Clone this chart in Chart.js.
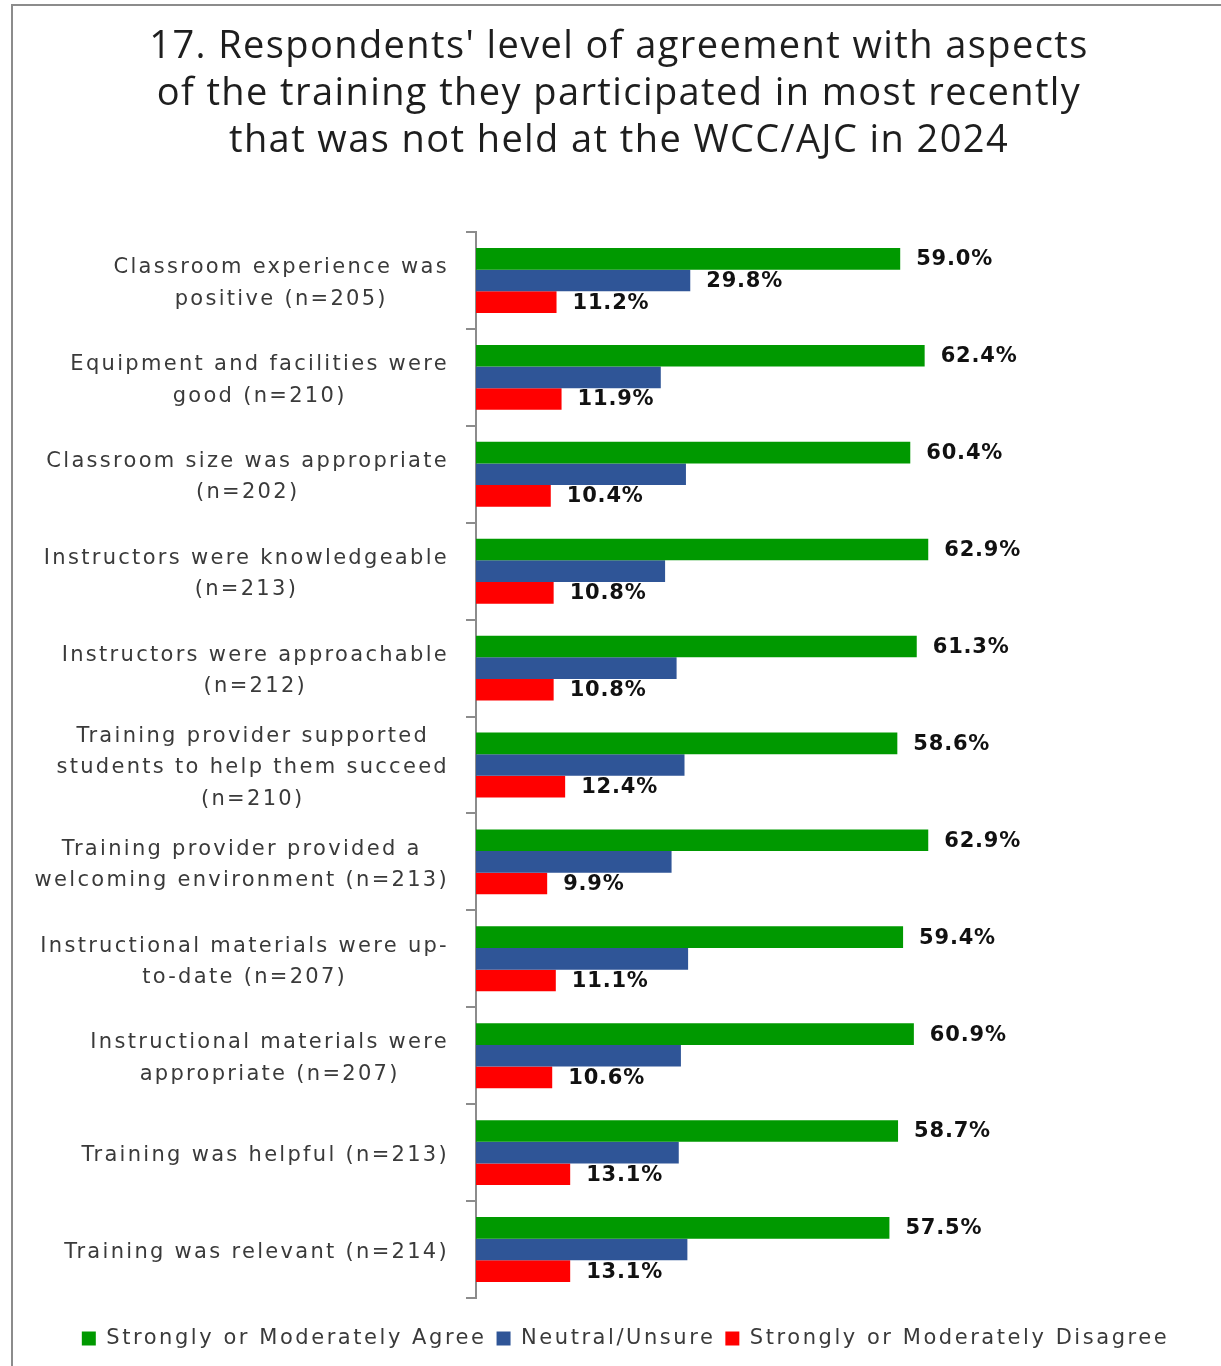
<!DOCTYPE html>
<html>
<head>
<meta charset="utf-8">
<title>Training agreement 2024</title>
<script src="https://cdn.jsdelivr.net/npm/chart.js@4.4.1/dist/chart.umd.min.js"></script>
<style>
  html, body { margin: 0; padding: 0; background: #fff; }
  #wrap { position: relative; width: 1221px; height: 1366px; overflow: hidden; }
  #frame {
    position: absolute; left: 11px; top: 4px; width: 1300px; height: 1400px;
    border-left: 2px solid #8c8c8c; border-top: 2px solid #8c8c8c;
  }
  #chart { position: absolute; left: 0; top: 0; }
</style>
</head>
<body>
<div id="wrap">
  <div id="frame"></div>
  <canvas id="chart" width="1221" height="1366"></canvas>
</div>
<script>
// --- Data ---
const categories = [
    ['Classroom experience was', 'positive (n=205)'],
    ['Equipment and facilities were', 'good (n=210)'],
    ['Classroom size was appropriate', '(n=202)'],
    ['Instructors were knowledgeable', '(n=213)'],
    ['Instructors were approachable', '(n=212)'],
    ['Training provider supported', 'students to help them succeed', '(n=210)'],
    ['Training provider provided a', 'welcoming environment (n=213)'],
    ['Instructional materials were up-', 'to-date (n=207)'],
    ['Instructional materials were', 'appropriate (n=207)'],
    ['Training was helpful (n=213)'],
    ['Training was relevant (n=214)']
];

const agree    = [59.0, 62.4, 60.4, 62.9, 61.3, 58.6, 62.9, 59.4, 60.9, 58.7, 57.5];
const neutral  = [29.8, 25.7, 29.2, 26.3, 27.9, 29.0, 27.2, 29.5, 28.5, 28.2, 29.4];
const disagree = [11.2, 11.9, 10.4, 10.8, 10.8, 12.4, 9.9, 11.1, 10.6, 13.1, 13.1];

// only the first neutral bar carries a value label
const neutralLabelShown = [true, false, false, false, false, false, false, false, false, false, false];

const seriesNames = ['Strongly or Moderately Agree', 'Neutral/Unsure', 'Strongly or Moderately Disagree'];

const titleLines = [
    "17. Respondents' level of agreement with aspects",
    'of the training they participated in most recently',
    'that was not held at the WCC/AJC in 2024'
];

// --- Style ---
const COLORS = ['#009900', '#2F5597', '#FF0000'];
const TEXT_FONT = 'DejaVu Sans';
const TEXT_COLOR = '#3a3a3a';
const LEGEND_SPACING = '2.55px';
const LABEL_SPACING = '2.3px';
const LABEL_SIZE = 21;
const LABEL_LINE = 31.5;

// wider tracking for the text Chart.js draws itself (legend)
const trackingPlugin = {
    id: 'tracking',
    beforeUpdate(chart) { chart.ctx.letterSpacing = LEGEND_SPACING; },
    beforeDraw(chart) { chart.ctx.letterSpacing = LEGEND_SPACING; }
};

// three-line heading above the plot
const heading = {
    id: 'heading',
    afterDraw(chart) {
        const ctx = chart.ctx;
        ctx.save();
        ctx.letterSpacing = '1.4px';
        ctx.font = '38px "Open Sans"';
        ctx.fillStyle = '#1e1e1e';
        ctx.textAlign = 'center';
        ctx.textBaseline = 'alphabetic';
        titleLines.forEach((line, i) => {
            ctx.fillText(line, 619, 58 + i * 47);
        });
        ctx.restore();
    }
};

// category labels: lines centred within their block, block right-aligned to the axis
const categoryLabels = {
    id: 'categoryLabels',
    afterDraw(chart) {
        const ctx = chart.ctx;
        const yScale = chart.scales.y;
        const right = yScale.right - 27;
        ctx.save();
        ctx.letterSpacing = LABEL_SPACING;
        ctx.font = LABEL_SIZE + 'px "' + TEXT_FONT + '"';
        ctx.fillStyle = TEXT_COLOR;
        ctx.textAlign = 'center';
        ctx.textBaseline = 'middle';
        categories.forEach((lines, i) => {
            const widths = lines.map(l => ctx.measureText(l).width);
            const block = Math.max(...widths);
            const cx = right - block / 2;
            const cy = yScale.getPixelForValue(i) + 3;
            const top = cy - (lines.length - 1) * LABEL_LINE / 2;
            lines.forEach((line, j) => {
                ctx.fillText(line, cx, top + j * LABEL_LINE);
            });
        });
        ctx.restore();
    }
};

// value labels just past the end of each bar
const valueLabels = {
    id: 'valueLabels',
    afterDatasetsDraw(chart) {
        const ctx = chart.ctx;
        ctx.save();
        ctx.letterSpacing = '0.8px';
        ctx.font = 'bold 21px "DejaVu Sans"';
        ctx.fillStyle = '#111';
        ctx.textAlign = 'left';
        ctx.textBaseline = 'middle';
        chart.data.datasets.forEach((ds, di) => {
            const meta = chart.getDatasetMeta(di);
            meta.data.forEach((bar, i) => {
                if (di === 1 && !neutralLabelShown[i]) return;
                ctx.fillText(ds.data[i].toFixed(1) + '%', bar.x + 16, bar.y + 1);
            });
        });
        ctx.restore();
    }
};

const ctx = document.getElementById('chart').getContext('2d');

new Chart(ctx, {
    type: 'bar',
    data: {
        labels: categories,
        datasets: [agree, neutral, disagree].map((values, i) => ({
            label: seriesNames[i],
            data: values,
            backgroundColor: COLORS[i],
            borderWidth: 0,
            categoryPercentage: 0.67,
            barPercentage: 1.0
        }))
    },
    options: {
        indexAxis: 'y',
        responsive: false,
        animation: false,
        layout: { padding: { left: 56, right: 26, top: 232, bottom: 7 } },
        scales: {
            x: {
                min: 0,
                max: 100,
                afterFit(scale) { scale.height = 20; },
                ticks: { display: false },
                grid: { display: false },
                border: { display: false }
            },
            y: {
                afterFit(scale) { scale.width = 420; },
                border: { color: '#8c8c8c', width: 2 },
                grid: {
                    offset: true,
                    drawOnChartArea: false,
                    tickLength: 10,
                    color: '#8c8c8c',
                    lineWidth: 2
                },
                ticks: { display: false }
            }
        },
        plugins: {
            title: { display: false },
            legend: {
                position: 'bottom',
                labels: {
                    color: TEXT_COLOR,
                    boxWidth: 14,
                    boxHeight: 14,
                    padding: 10,
                    font: { family: TEXT_FONT, size: 21 }
                }
            },
            tooltip: { enabled: false }
        }
    },
    plugins: [trackingPlugin, heading, categoryLabels, valueLabels]
});
</script>
</body>
</html>
